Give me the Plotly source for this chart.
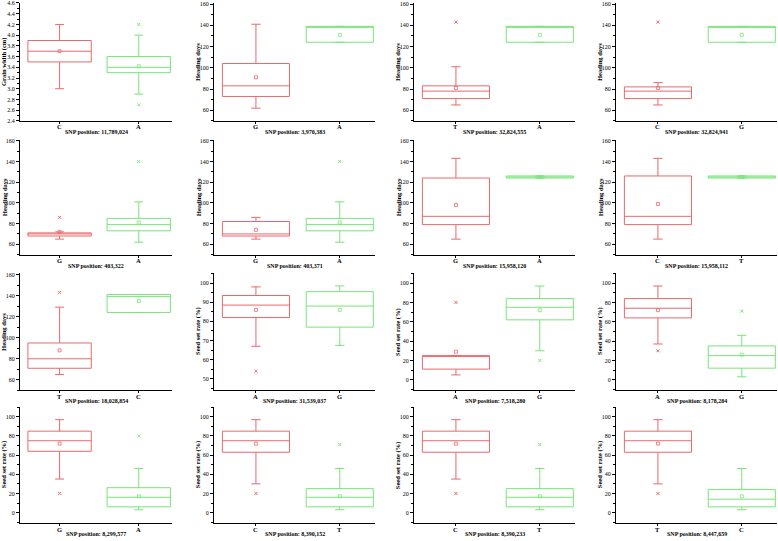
import plotly.graph_objects as go

# ---------------- data ----------------
titles = ["SNP position: 11,789,024", "SNP position: 3,970,383", "SNP position: 32,824,555", "SNP position: 32,824,941",
          "SNP position: 403,322", "SNP position: 403,371", "SNP position: 15,958,120", "SNP position: 15,958,112",
          "SNP position: 18,028,854", "SNP position: 31,539,037", "SNP position: 7,518,280", "SNP position: 8,178,284",
          "SNP position: 8,299,577", "SNP position: 8,390,152", "SNP position: 8,390,233", "SNP position: 8,447,659"]
cats = [["C", "A"], ["G", "A"], ["T", "A"], ["C", "G"],
        ["G", "A"], ["G", "A"], ["G", "A"], ["C", "T"],
        ["T", "C"], ["A", "G"], ["A", "G"], ["A", "G"],
        ["G", "A"], ["C", "T"], ["C", "T"], ["T", "C"]]
ylabels = ["Grain width (cm)"] + ["Heading days"] * 8 + ["Seed set rate (%)"] * 7
yranges = [[2.4, 4.6]] + [[50, 161]] * 8 + [[44, 105]] + [[-11, 110]] * 6
ydtick = [0.2] + [20] * 8 + [10] + [20] * 6
yformat = [".1f"] + [""] * 15

q1 = [[3.5, 3.3], [73, 124], [71, 124], [71, 124],
      [68, 73], [68, 73], [79, 124], [79, 124],
      [71, 124], [82, 77], [11, 62], [64, 12],
      [64, 6], [63, 6], [63, 6], [63, 6]]
med = [[3.7, 3.4], [83, 139], [78, 139], [78, 139],
       [70, 79], [70, 79], [87, 125], [87, 125],
       [80, 139], [88.5, 88], [24, 75], [74, 25],
       [75, 16], [75, 16], [75, 16], [75, 14]]
q3 = [[3.9, 3.6], [104, 139], [83, 139], [82, 139],
      [71, 85], [82, 85], [124, 126], [126, 126],
      [95, 141], [93.5, 95.5], [25, 84], [84, 35],
      [85, 26], [85, 25], [85, 25], [85, 24]]
lo = [[3.0, 2.9], [62, 124], [65, 124], [65, 124],
      [65, 62], [65, 62], [65, 124], [65, 124],
      [65, 124], [67, 67.5], [5, 30], [37, 3],
      [35, 3], [30, 3], [35, 3], [30, 3]]
hi = [[4.2, 4.0], [141, 139], [101, 139], [86, 139],
      [72, 101], [86, 101], [143, 126], [143, 126],
      [129, 141], [98, 98.5], [25, 97], [97, 46],
      [97, 46], [97, 46], [97, 46], [97, 46]]
means = [[3.7, 3.42], [91, 131], [81, 131], [81, 131],
         [72, 81], [74, 81], [98, 125], [99, 125],
         [88, 135], [86, 86], [29, 72], [72, 26],
         [72, 17], [72, 17], [72, 17], [72, 17]]
outliers = [[[], [4.2, 2.7]], [[], []], [[143], []], [[143], []],
            [[86], [140]], [[], [140]], [[], []], [[], []],
            [[143], []], [[54], []], [[80], [20]], [[30], [71]],
            [[20], [80]], [[20], [71]], [[20], [71]], [[20], []]]

colors = ["#e8696c", "#78e478"]

# ---------------- layout geometry ----------------
W, H = 778, 541
col_l = [20, 214, 414, 616]
col_r = [172, 375, 575, 777]
row_t = [1, 139, 274, 409]
row_b = [120, 255, 392, 526]

fig = go.Figure()
annotations = []
font = "Liberation Serif, Times New Roman, serif"

for i in range(16):
    r, c = divmod(i, 4)
    ax = "" if i == 0 else str(i + 1)
    xref, yref = "x" + ax, "y" + ax
    for g in range(2):
        fig.add_trace(go.Box(
            x=[g], q1=[q1[i][g]], median=[med[i][g]], q3=[q3[i][g]],
            lowerfence=[lo[i][g]], upperfence=[hi[i][g]],
            width=0.8, whiskerwidth=0.14, boxpoints=False,
            line=dict(color=colors[g], width=1), fillcolor="rgba(0,0,0,0)",
            xaxis=xref, yaxis=yref, showlegend=False, hoverinfo="skip"))
        fig.add_trace(go.Scatter(
            x=[g], y=[means[i][g]], mode="markers",
            marker=dict(symbol="square-open", size=3, color=colors[g], line=dict(width=0.8)),
            xaxis=xref, yaxis=yref, showlegend=False, hoverinfo="skip"))
        if outliers[i][g]:
            fig.add_trace(go.Scatter(
                x=[g] * len(outliers[i][g]), y=outliers[i][g], mode="markers",
                marker=dict(symbol="x-thin-open", size=3, color=colors[g], line=dict(width=1, color=colors[g])),
                xaxis=xref, yaxis=yref, showlegend=False, hoverinfo="skip"))
        # category label under the axis
        annotations.append(dict(text="<b>%s</b>" % cats[i][g], xref=xref, yref="paper",
                                x=g, y=1 - (row_b[r] + 6) / H, showarrow=False,
                                font=dict(family=font, size=6.5, color="black"),
                                xanchor="center", yanchor="middle"))
    xd = [col_l[c] / W, col_r[c] / W]
    yd = [1 - row_b[r] / H, 1 - row_t[r] / H]
    common = dict(showline=True, linecolor="black", linewidth=1, ticks="outside",
                  tickcolor="black", showgrid=False, zeroline=False, mirror=False,
                  tickfont=dict(family=font, size=6, color="black"))
    fig.layout["xaxis" + ax] = dict(domain=xd, anchor=yref, range=[-0.5, 1.42], ticklen=2,
                                    tickvals=[0, 1], ticktext=["", ""], **common)
    fig.layout["yaxis" + ax] = dict(domain=yd, anchor=xref, range=yranges[i], dtick=ydtick[i], ticklen=3,
                                    tickformat=yformat[i],
                                    minor=dict(ticks="outside", ticklen=2, tickcolor="black",
                                               dtick=ydtick[i] / 2),
                                    **common)
    annotations.append(dict(text="<b>%s</b>" % titles[i], xref="paper", yref="paper",
                            x=(col_l[c] + col_r[c]) / 2 / W, y=1 - (row_b[r] + 11) / H,
                            showarrow=False, font=dict(family=font, size=6, color="black"),
                            xanchor="center", yanchor="middle"))
    annotations.append(dict(text="<b>%s</b>" % ylabels[i], xref="paper", yref="paper",
                            x=(col_l[c] - 16) / W, y=1 - (row_t[r] + row_b[r]) / 2 / H,
                            showarrow=False, textangle=-90, font=dict(family=font, size=6.5, color="black"),
                            xanchor="center", yanchor="middle"))

fig.update_layout(width=W, height=H, margin=dict(l=0, r=0, t=0, b=0),
                  paper_bgcolor="white", plot_bgcolor="white", annotations=annotations)
fig.write_html("out.html", config={"displayModeBar": False},
               post_script="document.body.style.margin='0';document.body.style.overflow='hidden';")
